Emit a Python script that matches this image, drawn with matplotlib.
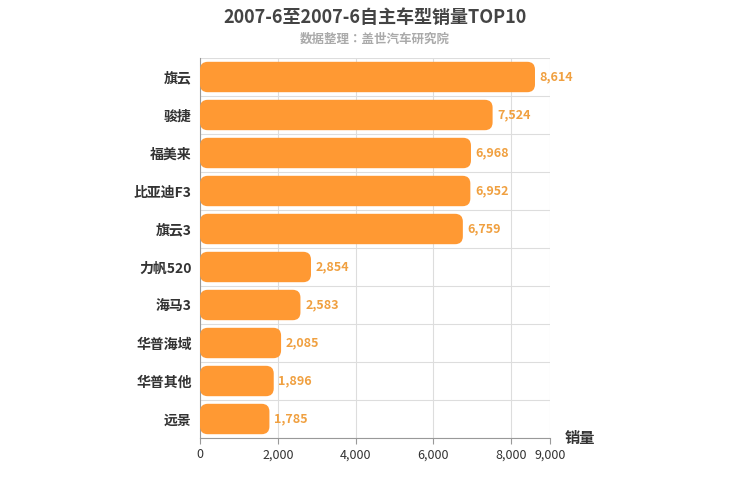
import matplotlib.pyplot as plt
from matplotlib.patches import FancyBboxPatch

plt.rcParams["font.family"] = ["Noto Sans CJK SC", "Noto Sans CJK JP", "Noto Sans CJK TC",
                               "Noto Sans CJK KR", "DejaVu Sans"]

models = ["旗云", "骏捷", "福美来", "比亚迪F3", "旗云3", "力帆520", "海马3", "华普海域", "华普其他", "远景"]
sales = [8614, 7524, 6968, 6952, 6759, 2854, 2583, 2085, 1896, 1785]
xticks = [0, 2000, 4000, 6000, 8000, 9000]

fig = plt.figure(figsize=(7.5, 5), dpi=100)
fig.patch.set_facecolor("white")
ax = fig.add_axes([200 / 750, 62 / 500, 350 / 750, 380 / 500])
ax.set_facecolor("white")

n = len(models)
ax.set_xlim(0, 9000)
ax.set_ylim(n - 0.5, -0.5)
asp = (1.0 / 38) / (9000 / 350)
for i, v in enumerate(sales):
    p = FancyBboxPatch((0, i - 0.4), v, 0.8,
                       boxstyle="round,pad=0,rounding_size=200",
                       mutation_aspect=asp, fc="#ff9933", ec="none", zorder=3)
    ax.add_patch(p)
    ax.text(v + 120, i, f"{v:,}", va="center", ha="left",
            color="#f0a040", fontsize=9, fontweight="bold", zorder=4)

ax.set_yticks(range(n))
ax.set_yticklabels(models, fontsize=10, fontweight="bold", color="#333333")
ax.set_xticks(xticks)
ax.set_xticklabels([f"{t:,}" for t in xticks], fontsize=9, color="#333333")
for t in xticks:
    ax.axvline(t, color="#dddddd", lw=0.8, zorder=1)
for i in range(n + 1):
    ax.axhline(i - 0.5, color="#dddddd", lw=0.8, zorder=1)
for s in ["top", "right"]:
    ax.spines[s].set_visible(False)
ax.spines["left"].set_color("#999999")
ax.spines["bottom"].set_color("#999999")
ax.tick_params(axis="y", length=0, pad=6)
ax.tick_params(axis="x", length=4, color="#999999")

fig.text(0.5, 0.965, "2007-6至2007-6自主车型销量TOP10", ha="center", va="center",
         fontsize=13, fontweight="bold", color="#444444")
fig.text(0.5, 0.922, "数据整理：盖世汽车研究院", ha="center", va="center",
         fontsize=9, fontweight="bold", color="#aaaaaa")
fig.text(580 / 750, 1 - 438 / 500, "销量", ha="center", va="center",
         fontsize=11, fontweight="bold", color="#333333")

fig.savefig("out.png", dpi=100, facecolor=fig.get_facecolor())
